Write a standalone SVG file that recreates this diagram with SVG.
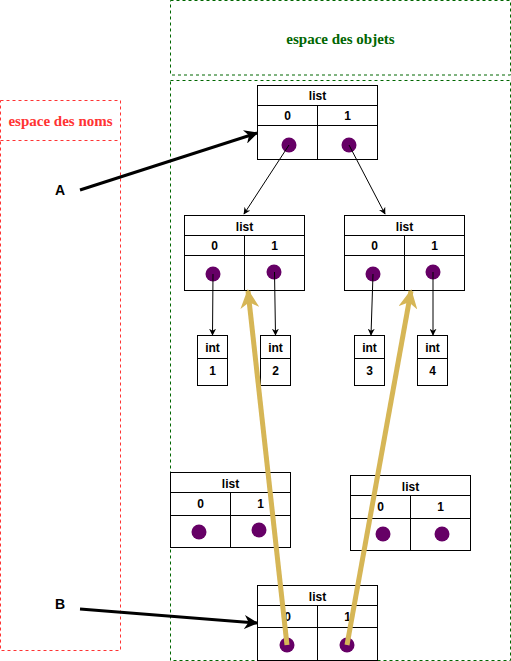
<svg xmlns="http://www.w3.org/2000/svg" width="511" height="661" viewBox="0 0 511 661">
<defs>
<style>
.box{fill:#fff;stroke:#000;stroke-width:1}
.ln{stroke:#000;stroke-width:1;fill:none}
.t{font-family:"Liberation Sans",Arial,sans-serif;font-weight:bold;font-size:12px;text-anchor:middle;fill:#000}
.dot{fill:#660066}
.thin{stroke:#000;stroke-width:1;fill:none;marker-end:url(#mt)}
.thick{stroke:#000;stroke-width:3;fill:none;marker-end:url(#mk)}
.gold{stroke:#D6B656;stroke-width:5;fill:none;marker-end:url(#mg)}
</style>
<marker id="mt" viewBox="0 0 10 10" refX="9" refY="5" markerWidth="7" markerHeight="7" orient="auto" markerUnits="userSpaceOnUse"><path d="M0,0 L10,5 L0,10 L3,5 Z" fill="#000"/></marker>
<marker id="mk" viewBox="0 0 10 10" refX="9" refY="5" markerWidth="14" markerHeight="14" orient="auto" markerUnits="userSpaceOnUse"><path d="M0,0 L10,5 L0,10 L3,5 Z" fill="#000"/></marker>
<marker id="mg" viewBox="0 0 10 10" refX="9" refY="5" markerWidth="19" markerHeight="19" orient="auto" markerUnits="userSpaceOnUse"><path d="M0,0 L10,5 L0,10 L3,5 Z" fill="#D6B656"/></marker>
</defs>
<g id="espace-objets-titre">
<rect x="170.5" y="0.5" width="340" height="74.5" fill="none" stroke="#006600" stroke-dasharray="3 3"/>
<text x="340.5" y="44" font-family="'Liberation Serif','Times New Roman',serif" font-weight="bold" font-size="15" text-anchor="middle" fill="#006600">espace des objets</text>
</g>
<g id="espace-objets">
<rect x="170.5" y="80.5" width="340" height="580" fill="none" stroke="#006600" stroke-dasharray="3 3"/>
</g>
<g id="espace-noms">
<rect x="0.5" y="100.5" width="120" height="550" fill="none" stroke="#FF3333" stroke-dasharray="3 3"/>
<line x1="0.5" y1="140.5" x2="120.5" y2="140.5" stroke="#FF3333" stroke-dasharray="3 3"/>
<text x="60.5" y="126" font-family="'Liberation Serif','Times New Roman',serif" font-weight="bold" font-size="15" text-anchor="middle" fill="#FF3333">espace des noms</text>
</g>
<g id="list-top">
<rect class="box" x="257.5" y="85.5" width="120" height="74"/>
<line class="ln" x1="257.5" y1="105.5" x2="377.5" y2="105.5"/>
<line class="ln" x1="257.5" y1="125.5" x2="377.5" y2="125.5"/>
<line class="ln" x1="317.5" y1="105.5" x2="317.5" y2="159.5"/>
<text class="t" x="317.5" y="100">list</text>
<text class="t" x="287.5" y="120">0</text>
<text class="t" x="347.5" y="120">1</text>
<circle class="dot" cx="289" cy="145" r="7.5"/>
<circle class="dot" cx="349" cy="145" r="7.5"/>
</g>
<g id="list-left">
<rect class="box" x="184.5" y="215.5" width="120" height="75"/>
<line class="ln" x1="184.5" y1="235.5" x2="304.5" y2="235.5"/>
<line class="ln" x1="184.5" y1="255.5" x2="304.5" y2="255.5"/>
<line class="ln" x1="244.5" y1="235.5" x2="244.5" y2="290.5"/>
<text class="t" x="244.5" y="231">list</text>
<text class="t" x="214.5" y="250">0</text>
<text class="t" x="274.5" y="250">1</text>
<circle class="dot" cx="213" cy="274" r="7.5"/>
<circle class="dot" cx="274" cy="272" r="7.5"/>
</g>
<g id="list-right">
<rect class="box" x="344.5" y="215.5" width="120" height="75"/>
<line class="ln" x1="344.5" y1="235.5" x2="464.5" y2="235.5"/>
<line class="ln" x1="344.5" y1="255.5" x2="464.5" y2="255.5"/>
<line class="ln" x1="404.5" y1="235.5" x2="404.5" y2="290.5"/>
<text class="t" x="404.5" y="231">list</text>
<text class="t" x="374.5" y="250">0</text>
<text class="t" x="434.5" y="250">1</text>
<circle class="dot" cx="373" cy="274" r="7.5"/>
<circle class="dot" cx="433" cy="272" r="7.5"/>
</g>
<g id="int1">
<rect class="box" x="197.5" y="335.5" width="30" height="50"/>
<line class="ln" x1="197.5" y1="358.5" x2="227.5" y2="358.5"/>
<text class="t" x="212.5" y="352">int</text>
<text class="t" x="212.5" y="375">1</text>
</g>
<g id="int2">
<rect class="box" x="260.5" y="335.5" width="30" height="50"/>
<line class="ln" x1="260.5" y1="358.5" x2="290.5" y2="358.5"/>
<text class="t" x="275.5" y="352">int</text>
<text class="t" x="275.5" y="375">2</text>
</g>
<g id="int3">
<rect class="box" x="354.5" y="335.5" width="30" height="50"/>
<line class="ln" x1="354.5" y1="358.5" x2="384.5" y2="358.5"/>
<text class="t" x="369.5" y="352">int</text>
<text class="t" x="369.5" y="375">3</text>
</g>
<g id="int4">
<rect class="box" x="417.5" y="335.5" width="30" height="50"/>
<line class="ln" x1="417.5" y1="358.5" x2="447.5" y2="358.5"/>
<text class="t" x="432.5" y="352">int</text>
<text class="t" x="432.5" y="375">4</text>
</g>
<g id="list-bottom-left">
<rect class="box" x="170.5" y="472.5" width="120" height="75"/>
<line class="ln" x1="170.5" y1="492.5" x2="290.5" y2="492.5"/>
<line class="ln" x1="170.5" y1="515.5" x2="290.5" y2="515.5"/>
<line class="ln" x1="230.5" y1="492.5" x2="230.5" y2="547.5"/>
<text class="t" x="230.5" y="488">list</text>
<text class="t" x="200.5" y="508">0</text>
<text class="t" x="260.5" y="508">1</text>
<circle class="dot" cx="199" cy="532" r="7.5"/>
<circle class="dot" cx="259" cy="530" r="7.5"/>
</g>
<g id="list-bottom-right">
<rect class="box" x="350.5" y="475.5" width="120" height="75"/>
<line class="ln" x1="350.5" y1="495.5" x2="470.5" y2="495.5"/>
<line class="ln" x1="350.5" y1="518.5" x2="470.5" y2="518.5"/>
<line class="ln" x1="410.5" y1="495.5" x2="410.5" y2="550.5"/>
<text class="t" x="410.5" y="491">list</text>
<text class="t" x="380.5" y="511">0</text>
<text class="t" x="440.5" y="511">1</text>
<circle class="dot" cx="383" cy="534" r="7.5"/>
<circle class="dot" cx="442" cy="534" r="7.5"/>
</g>
<g id="list-B">
<rect class="box" x="257.5" y="585.5" width="120" height="75"/>
<line class="ln" x1="257.5" y1="605.5" x2="377.5" y2="605.5"/>
<line class="ln" x1="257.5" y1="627.5" x2="377.5" y2="627.5"/>
<line class="ln" x1="317.5" y1="605.5" x2="317.5" y2="660.5"/>
<text class="t" x="317.5" y="601">list</text>
<text class="t" x="287.5" y="621">0</text>
<text class="t" x="347.5" y="621">1</text>
<circle class="dot" cx="287" cy="645" r="7.5"/>
<circle class="dot" cx="347" cy="645" r="7.5"/>
</g>
<g id="label-A"><text x="60" y="195" font-family="'Liberation Sans',Arial,sans-serif" font-weight="bold" font-size="14" text-anchor="middle">A</text></g>
<g id="label-B"><text x="60" y="609" font-family="'Liberation Sans',Arial,sans-serif" font-weight="bold" font-size="14" text-anchor="middle">B</text></g>
<g id="connectors">
<line class="thick" x1="80" y1="190" x2="257" y2="133"/>
<line class="thick" x1="80" y1="609" x2="257" y2="623"/>
<line class="thin" x1="289" y1="145" x2="244" y2="214"/>
<line class="thin" x1="349" y1="145" x2="385" y2="214"/>
<line class="thin" x1="213" y1="274" x2="212.5" y2="335"/>
<line class="thin" x1="274.5" y1="272" x2="275.5" y2="335"/>
<line class="thin" x1="373" y1="274" x2="371" y2="335"/>
<line class="thin" x1="433" y1="272" x2="433" y2="335"/>
<line class="gold" x1="287" y1="645" x2="248" y2="291"/>
<line class="gold" x1="347" y1="645" x2="411" y2="291"/>
</g>
</svg>
